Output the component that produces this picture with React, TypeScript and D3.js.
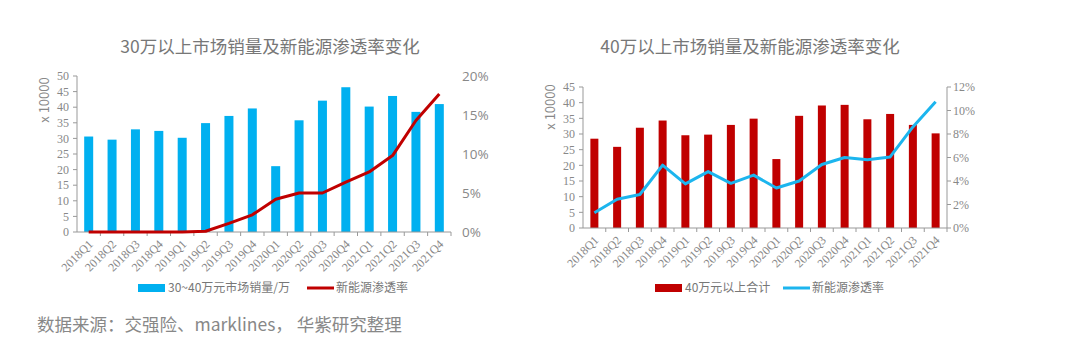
import React from "react";
import * as d3 from "d3";

const quarters = [
  "2018Q1", "2018Q2", "2018Q3", "2018Q4",
  "2019Q1", "2019Q2", "2019Q3", "2019Q4",
  "2020Q1", "2020Q2", "2020Q3", "2020Q4",
  "2021Q1", "2021Q2", "2021Q3", "2021Q4",
];

const sales30 = [30.6, 29.6, 32.9, 32.4, 30.2, 34.9, 37.2, 39.6, 21.1, 35.8, 42.1, 46.4, 40.2, 43.6, 38.5, 41.0];
const nev30 = [0, 0, 0, 0, 0, 0.1, 1.1, 2.2, 4.2, 5.0, 5.0, 6.4, 7.7, 9.8, 14.3, 17.7];

const sales40 = [28.5, 25.9, 32.0, 34.3, 29.6, 29.8, 32.9, 34.9, 22.0, 35.8, 39.1, 39.3, 34.7, 36.4, 32.9, 30.2];
const nev40 = [1.3, 2.45, 2.85, 5.35, 3.75, 4.8, 3.8, 4.5, 3.4, 4.0, 5.4, 6.0, 5.8, 6.05, 8.6, 10.75];

const leftTicks30 = [0, 5, 10, 15, 20, 25, 30, 35, 40, 45, 50];
const rightTicks30 = [0, 5, 10, 15, 20];
const leftTicks40 = [0, 5, 10, 15, 20, 25, 30, 35, 40, 45];
const rightTicks40 = [0, 2, 4, 6, 8, 10, 12];

const SERIF = "'Liberation Serif', 'DejaVu Serif', serif";
const SANS = "'Noto Sans CJK SC', 'Noto Sans', sans-serif";

type ChartProps = {
  title: string;
  titleX: number;
  x0: number;
  x1: number;
  yTop: number;
  yBot: number;
  leftMax: number;
  rightMax: number;
  bars: number[];
  line: number[];
  leftTicks: number[];
  rightTicks: number[];
  barColor: string;
  lineColor: string;
  rightAxisLine: boolean;
  rightFont: string;
  rightFontSize: number;
  rightLabelX: number;
  yLabelX: number;
  yLabelY: number;
  legendBar: string;
  legendLine: string;
  legendX: number;
  legendLineX: number;
  barWidth: number;
};

function Chart(p: ChartProps) {
  const x = d3.scaleBand<string>().domain(quarters).range([p.x0, p.x1]).padding(0);
  const yL = d3.scaleLinear().domain([0, p.leftMax]).range([p.yBot, p.yTop]);
  const yR = d3.scaleLinear().domain([0, p.rightMax]).range([p.yBot, p.yTop]);
  const cx = (q: string) => (x(q) as number) + x.bandwidth() / 2;
  const lineGen = d3
    .line<number>()
    .x((_, i) => cx(quarters[i]))
    .y((v) => yR(v))
    .curve(d3.curveLinear);
  const axisColor = "#999";
  const tickColor = "#888";
  const legendY = 288;
  return (
    <g>
      <text x={p.titleX} y={53} textAnchor="middle" fontFamily={SANS} fontSize={17.5} fill="#777">
        {p.title}
      </text>
      {p.bars.map((v, i) => (
        <rect
          key={i}
          x={cx(quarters[i]) - p.barWidth / 2}
          y={yL(v)}
          width={p.barWidth}
          height={yL(0) - yL(v)}
          fill={p.barColor}
        />
      ))}
      {/* left axis */}
      <line x1={p.x0} x2={p.x0} y1={p.yTop} y2={p.yBot} stroke={axisColor} strokeWidth={1} />
      {p.leftTicks.map((t) => (
        <g key={t}>
          <line x1={p.x0 - 4} x2={p.x0} y1={yL(t)} y2={yL(t)} stroke={axisColor} />
          <text
            x={p.x0 - 8}
            y={yL(t)}
            dy="0.35em"
            textAnchor="end"
            fontFamily={SERIF}
            fontSize={12}
            fill={tickColor}
          >
            {t}
          </text>
        </g>
      ))}
      <text
        transform={`translate(${p.yLabelX},${p.yLabelY}) rotate(-90)`}
        textAnchor="middle"
        fontFamily={SANS}
        fontSize={13}
        fill="#888"
      >
        x 10000
      </text>
      {/* right axis */}
      {p.rightAxisLine && (
        <line x1={p.x1} x2={p.x1} y1={p.yTop} y2={p.yBot} stroke={axisColor} />
      )}
      {p.rightTicks.map((t) => (
        <g key={t}>
          {p.rightAxisLine && (
            <line x1={p.x1} x2={p.x1 + 4} y1={yR(t)} y2={yR(t)} stroke={axisColor} />
          )}
          <text
            x={p.rightLabelX}
            y={yR(t)}
            dy="0.35em"
            textAnchor="start"
            fontFamily={p.rightFont}
            fontSize={p.rightFontSize}
            fill={tickColor}
          >
            {t}%
          </text>
        </g>
      ))}
      {/* x axis */}
      <line x1={p.x0} x2={p.x1} y1={p.yBot} y2={p.yBot} stroke={axisColor} />
      {quarters.map((q, i) => (
        <line
          key={"t" + i}
          x1={(x(q) as number) + x.bandwidth()}
          x2={(x(q) as number) + x.bandwidth()}
          y1={p.yBot}
          y2={p.yBot + 4}
          stroke={axisColor}
        />
      ))}
      {quarters.map((q) => (
        <text
          key={q}
          transform={`translate(${cx(q) + 2},${p.yBot + 10}) rotate(-45)`}
          textAnchor="end"
          dy="0.35em"
          fontFamily={SERIF}
          fontSize={12}
          fill={tickColor}
        >
          {q}
        </text>
      ))}
      <path d={lineGen(p.line) || ""} fill="none" stroke={p.lineColor} strokeWidth={3} strokeLinejoin="round" />
      {/* legend */}
      <rect x={p.legendX} y={legendY - 4} width={27} height={8} fill={p.barColor} />
      <text x={p.legendX + 30} y={legendY} dy="0.35em" fontFamily={SANS} fontSize={12} fill="#777">
        {p.legendBar}
      </text>
      <line
        x1={p.legendLineX}
        x2={p.legendLineX + 27}
        y1={legendY}
        y2={legendY}
        stroke={p.lineColor}
        strokeWidth={3}
      />
      <text x={p.legendLineX + 29} y={legendY} dy="0.35em" fontFamily={SANS} fontSize={12} fill="#777">
        {p.legendLine}
      </text>
    </g>
  );
}

export default function App() {
  return (
    <svg width={1080} height={355} style={{ position: "absolute", left: 0, top: 0, background: "#fff" }}>
      <Chart
        title="30万以上市场销量及新能源渗透率变化"
        titleX={270}
        x0={77}
        x1={451}
        yTop={76}
        yBot={232}
        leftMax={50}
        rightMax={20}
        bars={sales30}
        line={nev30}
        leftTicks={leftTicks30}
        rightTicks={rightTicks30}
        barColor="#00B0F0"
        lineColor="#C00000"
        rightAxisLine={false}
        rightFont={"'Open Sans', 'Noto Sans', sans-serif"}
        rightFontSize={13.5}
        rightLabelX={462}
        yLabelX={49}
        yLabelY={100}
        legendBar="30~40万元市场销量/万"
        legendLine="新能源渗透率"
        legendX={138}
        legendLineX={307}
        barWidth={9}
      />
      <Chart
        title="40万以上市场销量及新能源渗透率变化"
        titleX={750}
        x0={583}
        x1={947}
        yTop={87}
        yBot={228}
        leftMax={45}
        rightMax={12}
        bars={sales40}
        line={nev40}
        leftTicks={leftTicks40}
        rightTicks={rightTicks40}
        barColor="#C00000"
        lineColor="#1CB5EE"
        rightAxisLine={true}
        rightFont={SERIF}
        rightFontSize={12}
        rightLabelX={953}
        yLabelX={555}
        yLabelY={107}
        legendBar="40万元以上合计"
        legendLine="新能源渗透率"
        legendX={655}
        legendLineX={783}
        barWidth={8}
      />
      <text x={37} y={331} fontFamily={SANS} fontSize={17.5} fill="#888">
        数据来源：交强险、marklines， 华紫研究整理
      </text>
    </svg>
  );
}
